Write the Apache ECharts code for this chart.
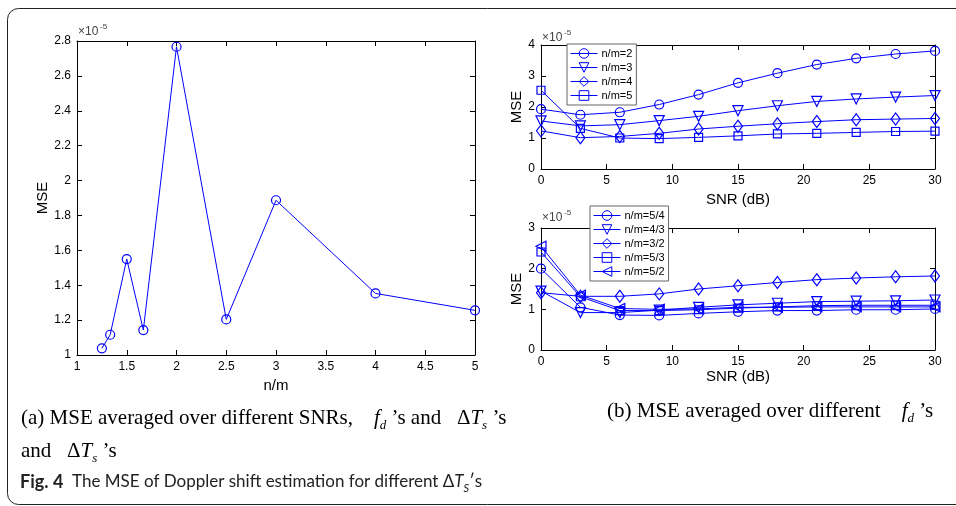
<!DOCTYPE html>
<html><head><meta charset="utf-8">
<script src="https://cdn.jsdelivr.net/npm/echarts@6/dist/echarts.min.js"></script>
<style>html,body{margin:0;padding:0;background:#fff}#c{width:956px;height:506px}</style>
</head><body><div id="c"></div>
<script>
// ---------- data ----------
const nmRatio = [1.25, 1.3333, 1.5, 1.6667, 2, 2.5, 3, 4, 5];
const mseAvgSNR = [1.038, 1.116, 1.55, 1.143, 2.767, 1.204, 1.887, 1.353, 1.256];

const snr = [0, 3, 6, 9, 12, 15, 18, 21, 24, 27, 30];
const nm2 = [1.93, 1.75, 1.83, 2.08, 2.40, 2.78, 3.09, 3.37, 3.57, 3.71, 3.81];
const nm3 = [1.55, 1.39, 1.43, 1.56, 1.70, 1.88, 2.04, 2.18, 2.26, 2.32, 2.37];
const nm4 = [1.23, 1.01, 1.05, 1.15, 1.29, 1.38, 1.46, 1.53, 1.59, 1.61, 1.63];
const nm5 = [2.54, 1.31, 1.00, 0.98, 1.02, 1.07, 1.13, 1.15, 1.18, 1.21, 1.22];

const nm5_4 = [2.00, 1.05, 0.86, 0.85, 0.90, 0.94, 0.97, 0.97, 0.99, 0.99, 1.01];
const nm4_3 = [1.45, 0.92, 0.92, 0.98, 1.05, 1.11, 1.15, 1.19, 1.20, 1.21, 1.23];
const nm3_2 = [1.41, 1.32, 1.32, 1.38, 1.50, 1.58, 1.66, 1.73, 1.77, 1.80, 1.82];
const nm5_3 = [2.41, 1.31, 0.97, 0.97, 0.99, 1.03, 1.06, 1.09, 1.10, 1.10, 1.10];
const nm5_2 = [2.55, 1.35, 1.02, 1.00, 1.01, 1.05, 1.05, 1.06, 1.06, 1.06, 1.06];

const namesTop = ['n/m=2', 'n/m=3', 'n/m=4', 'n/m=5'];
const namesBot = ['n/m=5/4', 'n/m=4/3', 'n/m=3/2', 'n/m=5/3', 'n/m=5/2'];

// ---------- chart ----------
const BLUE = '#0000ff';
const AF = 'Liberation Sans';
const chart = echarts.init(document.getElementById('c'), null, {renderer: 'canvas'});

function ax(grid, pos, min, max, interval, name, nameGap, labels) {
  return {
    type: 'value', gridIndex: grid, position: pos, min: min, max: max, interval: interval,
    name: name || '', nameLocation: 'middle', nameGap: nameGap || 0,
    nameTextStyle: {fontFamily: AF, fontSize: 15, color: '#000'},
    axisLine: {show: true, onZero: false, lineStyle: {color: '#000', width: 1}},
    axisTick: {show: true, inside: true, length: 5, lineStyle: {color: '#000'}},
    axisLabel: {show: labels, fontFamily: AF, fontSize: 12, color: '#000', margin: 6},
    splitLine: {show: false}
  };
}

function zip(xs, ys) { return xs.map((x, i) => [x, ys[i]]); }

const markers = {
  c: {symbol: 'circle', symbolSize: 9, symbolRotate: 0},
  dt: {symbol: 'triangle', symbolSize: 10, symbolRotate: 180},
  d: {symbol: 'diamond', symbolSize: [9, 12], symbolRotate: 0},
  s: {symbol: 'rect', symbolSize: 8, symbolRotate: 0},
  lt: {symbol: 'triangle', symbolSize: 10, symbolRotate: 90}
};

function ser(name, xi, yi, data, mk) {
  return Object.assign({
    type: 'line', name: name, xAxisIndex: xi, yAxisIndex: yi, data: data,
    showAllSymbol: true, animation: false, silent: true,
    lineStyle: {color: BLUE, width: 1},
    itemStyle: {color: 'transparent', borderColor: BLUE, borderWidth: 1.2},
    emphasis: {disabled: true}
  }, markers[mk]);
}

const legendBase = {
  orient: 'vertical', itemWidth: 27, itemHeight: 12, itemGap: 3, padding: [4, 4, 4, 3],
  backgroundColor: '#fff', borderColor: '#666', borderWidth: 1, borderRadius: 0,
  itemStyle: {color: 'transparent', borderColor: BLUE, borderWidth: 1},
  lineStyle: {color: BLUE, width: 1},
  textStyle: {fontFamily: AF, fontSize: 11, color: '#000', padding: [0, 0, 0, -1]},
  selectedMode: false
};

const serifRich = {
  n: {fontFamily: 'Liberation Serif', fontSize: 21, lineHeight: 28, fill: '#000'},
  i: {fontFamily: 'Liberation Serif', fontSize: 21, lineHeight: 28, fontStyle: 'italic', fill: '#000'},
  s: {fontFamily: 'Liberation Serif', fontSize: 13, lineHeight: 13, fontStyle: 'italic', verticalAlign: 'bottom', fill: '#000'}
};

const option = {
  animation: false,
  grid: [
    {left: 77, top: 41, width: 398, height: 314},
    {left: 541, top: 45, width: 394, height: 124},
    {left: 541, top: 228, width: 394, height: 122}
  ],
  xAxis: [
    ax(0, 'bottom', 1, 5, 0.5, 'n/m', 23, true),
    ax(0, 'top', 1, 5, 0.5, '', 0, false),
    ax(1, 'bottom', 0, 30, 5, 'SNR (dB)', 23, true),
    ax(1, 'top', 0, 30, 5, '', 0, false),
    ax(2, 'bottom', 0, 30, 5, 'SNR (dB)', 14, true),
    ax(2, 'top', 0, 30, 5, '', 0, false)
  ],
  yAxis: [
    ax(0, 'left', 1, 2.8, 0.2, 'MSE', 27, true),
    ax(0, 'right', 1, 2.8, 0.2, '', 0, false),
    ax(1, 'left', 0, 4, 1, 'MSE', 16, true),
    ax(1, 'right', 0, 4, 1, '', 0, false),
    ax(2, 'left', 0, 3, 1, 'MSE', 16, true),
    ax(2, 'right', 0, 3, 1, '', 0, false)
  ],
  legend: [
    Object.assign({data: namesTop, left: 567, top: 44}, legendBase),
    Object.assign({data: namesBot, left: 590, top: 206}, legendBase)
  ],
  series: [
    ser('avg', 0, 0, zip(nmRatio, mseAvgSNR), 'c'),
    ser(namesTop[0], 2, 2, zip(snr, nm2), 'c'),
    ser(namesTop[1], 2, 2, zip(snr, nm3), 'dt'),
    ser(namesTop[2], 2, 2, zip(snr, nm4), 'd'),
    ser(namesTop[3], 2, 2, zip(snr, nm5), 's'),
    ser(namesBot[0], 4, 4, zip(snr, nm5_4), 'c'),
    ser(namesBot[1], 4, 4, zip(snr, nm4_3), 'dt'),
    ser(namesBot[2], 4, 4, zip(snr, nm3_2), 'd'),
    ser(namesBot[3], 4, 4, zip(snr, nm5_3), 's'),
    ser(namesBot[4], 4, 4, zip(snr, nm5_2), 'lt')
  ],
  graphic: [
    {type: 'rect', silent: true, z: -10, shape: {x: 7.5, y: 8.5, width: 1000, height: 496, r: 11},
     style: {fill: 'none', stroke: '#222', lineWidth: 1}},
    // x10^-5 labels
    {type: 'text', left: 78, top: 26, style: {text: '\u00d710', fontFamily: AF, fontSize: 12, fill: '#444'}},
    {type: 'text', left: 100, top: 23, style: {text: '-5', fontFamily: AF, fontSize: 8, fill: '#444'}},
    {type: 'text', left: 542, top: 32, style: {text: '\u00d710', fontFamily: AF, fontSize: 12, fill: '#444'}},
    {type: 'text', left: 564, top: 29, style: {text: '-5', fontFamily: AF, fontSize: 8, fill: '#444'}},
    {type: 'text', left: 542, top: 212, style: {text: '\u00d710', fontFamily: AF, fontSize: 12, fill: '#444'}},
    {type: 'text', left: 564, top: 209, style: {text: '-5', fontFamily: AF, fontSize: 8, fill: '#444'}},
    // captions
    {type: 'text', left: 21, top: 408, style: {
      text: '{n|(a) MSE averaged over different SNRs,    }{i|f}{s|d}{n| \u2019s and   \u0394}{i|T}{s|s}{n| \u2019s}',
      rich: serifRich}},
    {type: 'text', left: 21, top: 441, style: {
      text: '{n|and   \u0394}{i|T}{s|s}{n| \u2019s}',
      rich: serifRich}},
    {type: 'text', left: 607, top: 401, style: {
      text: '{n|(b) MSE averaged over different    }{i|f}{s|d}{n| \u2019s}',
      rich: serifRich}},
    {type: 'text', left: 20, top: 473, style: {
      text: '{b|Fig. 4}{n|  The MSE of Doppler shift estimation for different \u0394}{i|T}{s|S}{n|\u2032s}',
      rich: {
        b: {fontFamily: 'Lato', fontSize: 18, fontWeight: 'bold', lineHeight: 24, fill: '#222'},
        n: {fontFamily: 'Lato', fontSize: 17, lineHeight: 24, fill: '#222'},
        i: {fontFamily: 'Lato', fontSize: 17, lineHeight: 24, fontStyle: 'italic', fill: '#222'},
        s: {fontFamily: 'Lato', fontSize: 11, lineHeight: 11, fontStyle: 'italic', verticalAlign: 'bottom', fill: '#222'}
      }}}
  ]
};
chart.setOption(option);
</script>
</body></html>
